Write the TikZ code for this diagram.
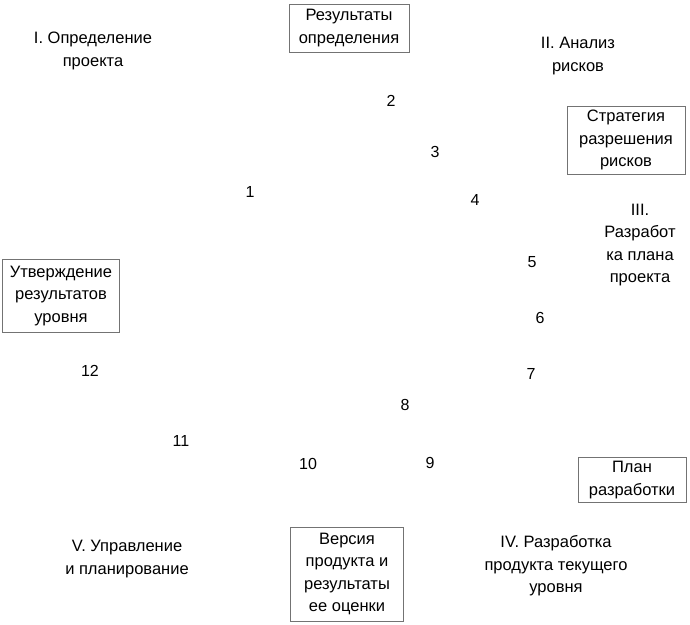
\documentclass[tikz,border=0pt]{standalone}
\usepackage{fontspec}
\setmainfont{Liberation Sans}
\usetikzlibrary{positioning}

\begin{document}
\begin{tikzpicture}[
  x=1pt,y=-1pt,
  txt/.style={align=center,font=\fontsize{16.5}{22.5}\selectfont,inner sep=0pt},
  box/.style={txt,draw=black!55,line width=0.8pt},
  num/.style={font=\fontsize{16}{18}\selectfont,inner sep=0pt}
]
  \useasboundingbox (0,0) rectangle (690,624);

  % stages of the cycle
  \node[txt] (def)  at (93,51)   {I. Определение\\проекта};
  \node[txt] (risk) at (578,56)  {II. Анализ\\рисков};
  \node[txt] (plan) at (640,245) {III.\\Разработ\\ка плана\\проекта};
  \node[txt] (dev)  at (556,566) {IV. Разработка\\продукта текущего\\уровня};
  \node[txt] (mgmt) at (127,559) {V. Управление\\и планирование};

  % results
  \node[box,minimum width=120,minimum height=48] (res)     at (349,28)  {Результаты\\определения};
  \node[box,minimum width=118,minimum height=68] (strat)   at (626,140) {Стратегия\\разрешения\\рисков};
  \node[box,minimum width=117,minimum height=73] (appr)    at (61,296)  {Утверждение\\результатов\\уровня};
  \node[box,minimum width=108,minimum height=45] (planbox) at (632,480) {План\\разработки};
  \node[box,minimum width=113,minimum height=94] (ver)     at (347,574) {Версия\\продукта и\\результаты\\ее оценки};

  % step numbers
  \foreach \i/\p in {1/{(250,192)},2/{(391,101)},3/{(435,152)},4/{(475,200)},
                     5/{(532,262)},6/{(540,318)},7/{(531,374)},8/{(405,405)},
                     9/{(430,463)},10/{(308,464)},11/{(181,441)},12/{(90,371)}}
    \node[num] (n\i) at \p {\i};
\end{tikzpicture}
\end{document}
